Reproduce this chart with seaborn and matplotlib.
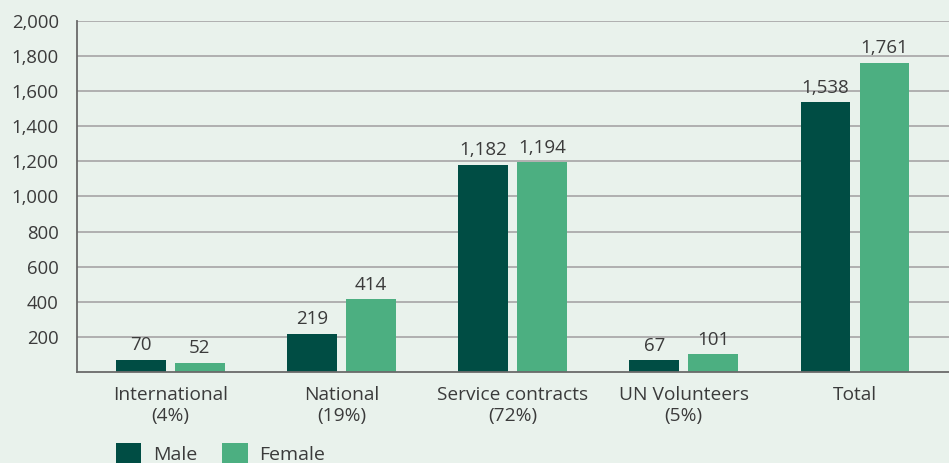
import matplotlib
matplotlib.use("Agg")
import matplotlib.pyplot as plt
import seaborn as sns
import pandas as pd
from matplotlib.patches import Patch

categories = ["International\n(4%)", "National\n(19%)", "Service contracts\n(72%)", "UN Volunteers\n(5%)", "Total"]
male = [70, 219, 1182, 67, 1538]
female = [52, 414, 1194, 101, 1761]
series = ["Male", "Female"]
yticks = [200, 400, 600, 800, 1000, 1200, 1400, 1600, 1800, 2000]

df = pd.DataFrame({
    "category": categories * 2,
    "value": male + female,
    "sex": ["Male"] * len(categories) + ["Female"] * len(categories),
})

bg = "#e9f2ec"
dark = "#004d44"
light = "#4caf81"
text_c = "#3b3b3b"

sns.set_theme(style="white")
plt.rcParams["font.family"] = ["Open Sans", "DejaVu Sans"]

fig = plt.figure(figsize=(9.49, 4.63), dpi=100, facecolor=bg)
ax = fig.add_axes([77 / 949, 1 - 372 / 463, 1 - 77 / 949, (372 - 21) / 463])
ax.set_facecolor(bg)

sns.barplot(data=df, x="category", y="value", hue="sex", hue_order=series,
            palette=[dark, light], width=0.69, gap=0.16, ax=ax, legend=False,
            saturation=1, linewidth=0, edgecolor="none")

for cont in ax.containers:
    ax.bar_label(cont, labels=[f"{v:,.0f}" for v in cont.datavalues],
                 padding=4, fontsize=13.5, color=text_c)

ax.set_ylim(0, 2000)
ax.set_xlim(-0.545, 4.55)
ax.set_yticks(yticks)
ax.set_yticklabels([f"{v:,}" for v in yticks])
ax.yaxis.grid(True, color="#ababab", linewidth=1.3)
ax.set_axisbelow(True)
ax.set_xlabel("")
ax.set_ylabel("")
ax.tick_params(axis="both", length=0, labelcolor=text_c)
ax.tick_params(axis="y", pad=13, labelsize=13.3)
ax.tick_params(axis="x", pad=10, labelsize=13.8)
for s in ["top", "right"]:
    ax.spines[s].set_visible(False)
for s in ["left", "bottom"]:
    ax.spines[s].set_color("#6a6a6a")
    ax.spines[s].set_linewidth(1.3)

handles = [Patch(facecolor=dark, edgecolor="none"), Patch(facecolor=light, edgecolor="none")]
fig.legend(handles, series, loc="upper left", bbox_to_anchor=(108 / 949, 1 - 435 / 463),
           ncol=2, frameon=False, fontsize=14, handlelength=1.3, handleheight=1.4,
           handletextpad=0.6, columnspacing=1.3, labelcolor=text_c, borderaxespad=0)

fig.savefig("out.png", dpi=100, facecolor=bg)
